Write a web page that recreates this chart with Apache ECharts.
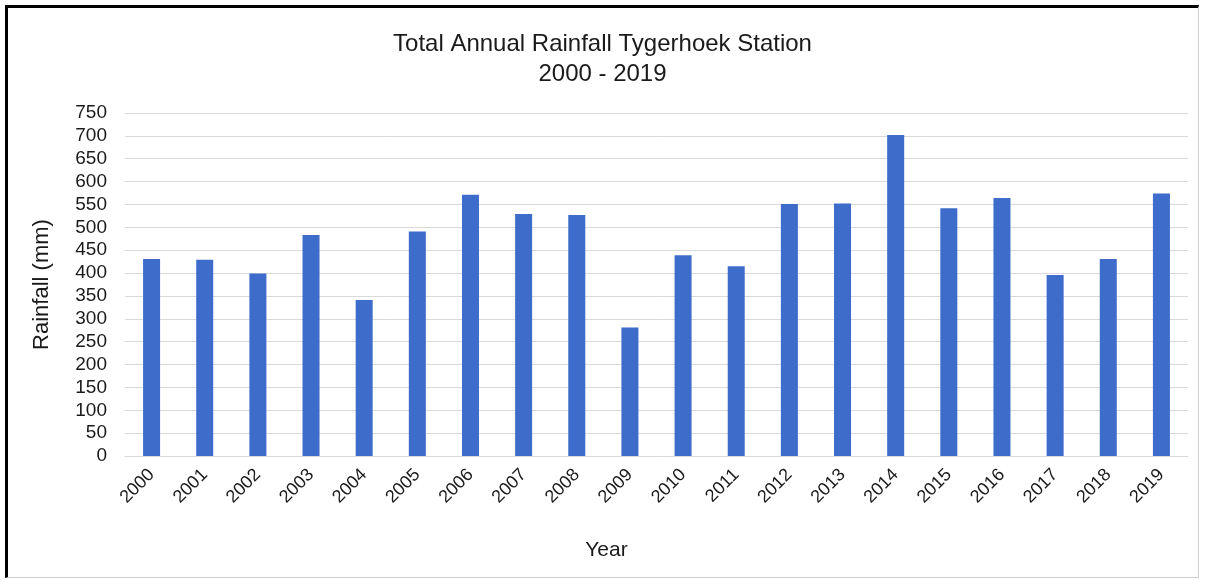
<!DOCTYPE html>
<html>
<head>
<meta charset="utf-8">
<script src="https://cdn.jsdelivr.net/npm/echarts@6/dist/echarts.min.js"></script>
<style>
  html, body { margin: 0; padding: 0; background: #fff; }
  #wrap { position: relative; width: 1205px; height: 580px; }
  #frame {
    position: absolute; left: 5px; top: 5px; width: 1190px; height: 569px;
    border-left: 3px solid #000; border-top: 3px solid #000;
    border-right: 1px solid #d0d0d0; border-bottom: 1px solid #d0d0d0;
    pointer-events: none;
  }
  #chart { position: absolute; left: 0; top: 0; width: 1205px; height: 580px; }
</style>
</head>
<body>
<div id="wrap">
  <div id="chart"></div>
  <div id="frame"></div>
</div>
<script>
// Annual rainfall totals (mm) recorded at Tygerhoek
const years = ['2000','2001','2002','2003','2004','2005','2006','2007','2008','2009',
               '2010','2011','2012','2013','2014','2015','2016','2017','2018','2019'];
const rainfall = [431, 429, 399, 483, 341, 491, 571, 529, 527, 281,
                  439, 415, 551, 552, 702, 542, 564, 396, 431, 574];
const titleLines = ['Total Annual Rainfall Tygerhoek Station', '2000 - 2019'];

const font = 'Liberation Sans, Arial, sans-serif';
const chart = echarts.init(document.getElementById('chart'), null, { renderer: 'canvas' });

chart.setOption({
  animation: false,
  backgroundColor: '#ffffff',
  title: {
    text: titleLines.join('\n'),
    left: 'center',
    top: 24,
    textStyle: { fontFamily: font, fontSize: 24, fontWeight: 'normal', color: '#1a1a1a', lineHeight: 30 }
  },
  grid: { left: 125, right: 17, top: 113, bottom: 124 },
  xAxis: {
    type: 'category',
    data: years,
    name: 'Year',
    nameLocation: 'middle',
    nameGap: 84,
    nameTextStyle: { fontFamily: font, fontSize: 21, color: '#1a1a1a', padding: [0, 100, 0, 0] },
    axisLine: { show: true, lineStyle: { color: '#d9d9d9', width: 1 } },
    axisTick: { show: false },
    axisLabel: { rotate: 45, fontFamily: font, fontSize: 18, color: '#1a1a1a', margin: 16, interval: 0 }
  },
  yAxis: {
    type: 'value',
    min: 0,
    max: 750,
    interval: 50,
    name: 'Rainfall (mm)',
    nameLocation: 'middle',
    nameGap: 72,
    nameTextStyle: { fontFamily: font, fontSize: 22, color: '#1a1a1a' },
    axisLine: { show: false },
    axisTick: { show: false },
    axisLabel: { fontFamily: font, fontSize: 19, color: '#1a1a1a', margin: 18 },
    splitLine: { lineStyle: { color: '#d9d9d9', width: 1 } }
  },
  series: [{
    type: 'bar',
    data: rainfall,
    barWidth: '32%',
    itemStyle: { color: '#3d6cca' }
  }]
});
</script>
</body>
</html>
